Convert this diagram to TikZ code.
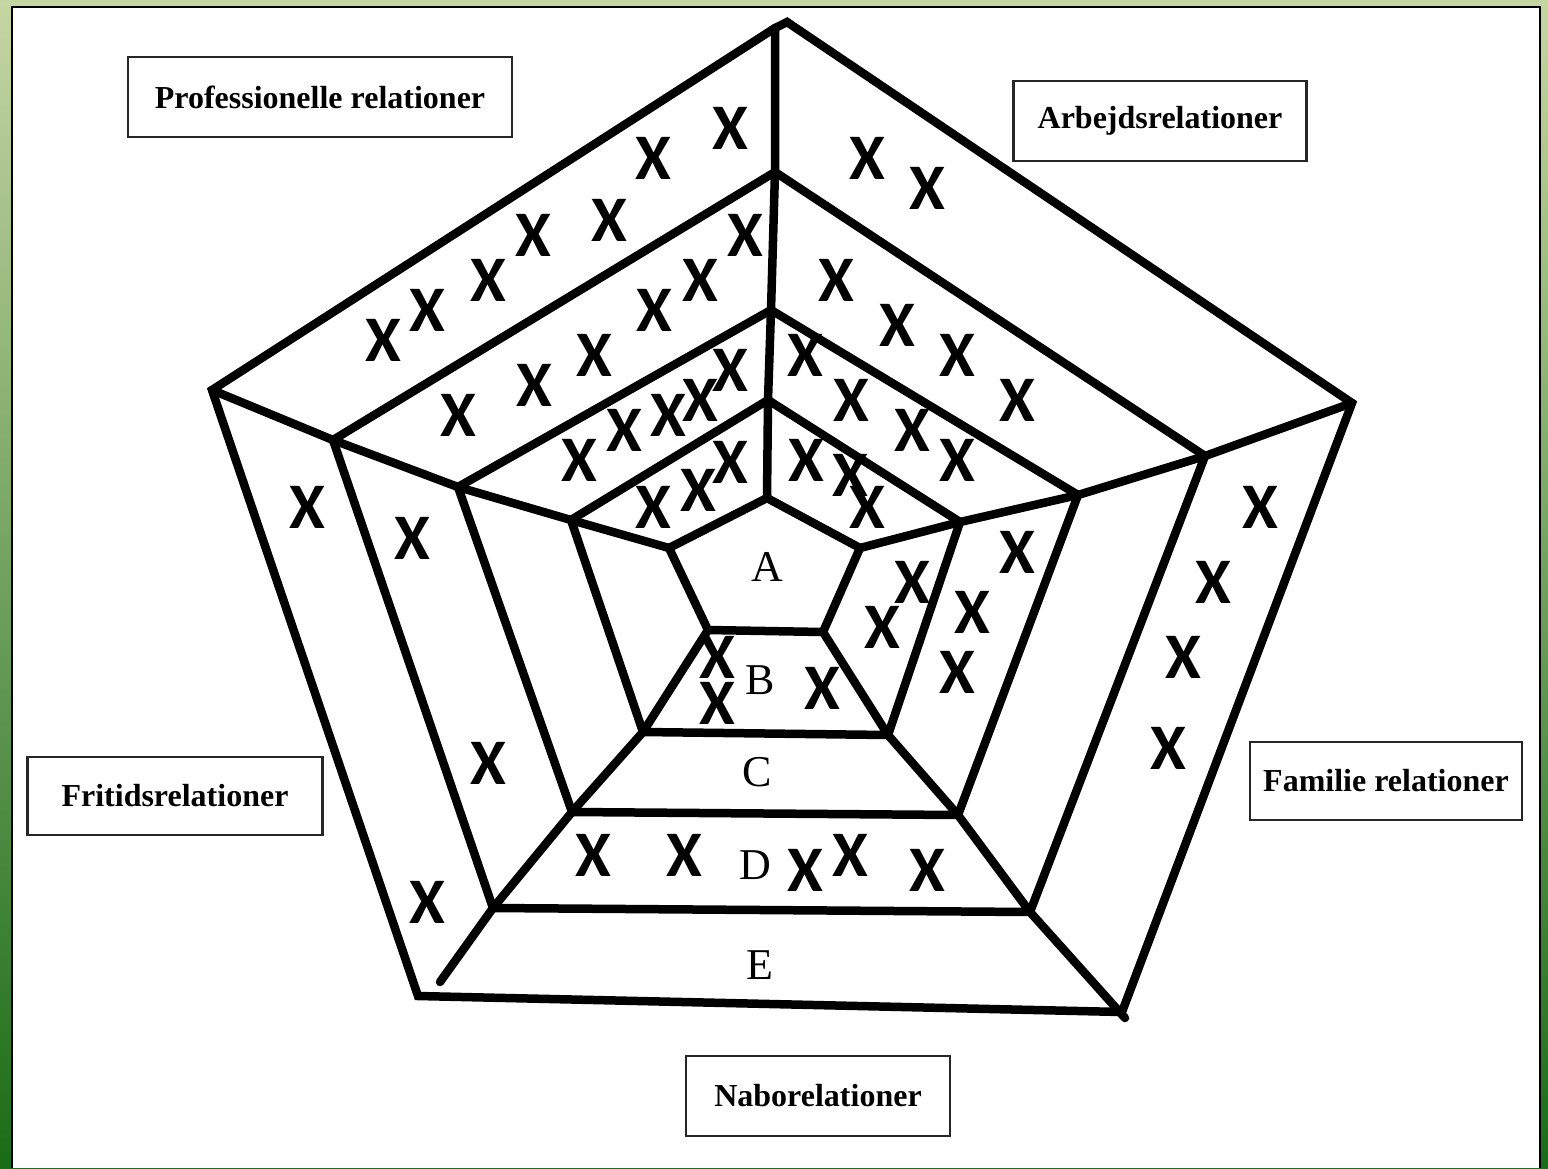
\documentclass[tikz,border=0pt]{standalone}
\usepackage{fontspec}
\setmainfont{Liberation Serif}
\newfontfamily\markfont{Carlito}
\definecolor{frametop}{RGB}{198,214,162}
\definecolor{framemid}{RGB}{120,166,92}
\definecolor{framebot}{RGB}{26,108,24}
\begin{document}
\begin{tikzpicture}[
    x=1pt, y=-1pt,
    ring/.style={line width=8.5pt, line join=miter},
    spoke/.style={line width=8.5pt, line cap=round, line join=round},
    relbox/.style={
        draw=black!85,
        line width=2.2pt,
        inner sep=0pt,
        anchor=center,
        font=\bfseries\fontsize{32}{36}\selectfont,
    },
    zone/.style={font=\fontsize{44}{48}\selectfont, inner sep=0pt},
    xmark/.style={font=\markfont\bfseries\fontsize{65}{65}\selectfont, inner sep=0pt},
]
\useasboundingbox (0,0) rectangle (1548,1168);

% --- Frame ---
\shade[top color=frametop, middle color=framemid, bottom color=framebot] (0,0) rectangle (1548,1168);
\fill[white] (12,7) rectangle (1540,1168);
\draw[line width=1.5pt] (12,1168) -- (12,7) -- (1540,7) -- (1540,1168);

% --- Ring corners (outer ring 1 to inner ring 5) ---
\coordinate (T1) at (775,28);  \coordinate (T1a) at (787,22);
\coordinate (R1) at (1352,403); \coordinate (BR1) at (1122,1012);
\coordinate (BL1) at (418,996); \coordinate (L1) at (212,390);

\coordinate (T2) at (775,172);  \coordinate (R2) at (1205,456);
\coordinate (BR2) at (1030,912); \coordinate (BL2) at (493,908);
\coordinate (L2) at (333,440);

\coordinate (T3) at (771,310);  \coordinate (R3) at (1078,495);
\coordinate (BR3) at (958,815); \coordinate (BL3) at (572,812);
\coordinate (L3) at (458,487);

\coordinate (T4) at (768,400);  \coordinate (R4) at (960,522);
\coordinate (BR4) at (888,735); \coordinate (BL4) at (643,732);
\coordinate (L4) at (571,520);

\coordinate (T5) at (767,498);  \coordinate (R5) at (860,548);
\coordinate (BR5) at (823,632); \coordinate (BL5) at (708,630);
\coordinate (L5) at (669,548);

% free ends of the two lower spokes
\coordinate (BRend) at (1125,1018);
\coordinate (BLend) at (440,982);

% --- Rings ---
\draw[ring] (T1a) -- (R1) -- (BR1) -- (BL1) -- (L1) -- (T1) -- cycle;
\draw[ring] (T2) -- (R2) -- (BR2) -- (BL2) -- (L2) -- cycle;
\draw[ring] (T3) -- (R3) -- (BR3) -- (BL3) -- (L3) -- cycle;
\draw[ring] (T4) -- (R4) -- (BR4) -- (BL4) -- (L4) -- cycle;
\draw[ring] (T5) -- (R5) -- (BR5) -- (BL5) -- (L5) -- cycle;

% --- Spokes ---
\draw[spoke] (T5) -- (T4) -- (T3) -- (T2) -- (T1);
\draw[spoke] (L5) -- (L4) -- (L3) -- (L2) -- (L1);
\draw[spoke] (R5) -- (R4) -- (R3) -- (R2) -- (R1);
\draw[spoke] (BR5) -- (BR4) -- (BR3) -- (BR2) -- (BRend);
\draw[spoke] (BL5) -- (BL4) -- (BL3) -- (BL2) -- (BLend);

% --- Zone letters ---
\node[zone] (zA) at (767,567) {A};
\node[zone] (zB) at (760,680) {B};
\node[zone] (zC) at (757,772) {C};
\node[zone] (zD) at (755,865) {D};
\node[zone] (zE) at (760,965) {E};

% --- Relation boxes ---
\node[relbox, minimum width=384pt, minimum height=80pt] (prof) at (320,97)
    {Professionelle relationer};
\node[relbox, minimum width=293pt, minimum height=80pt] (arb) at (1160,121)
    {Arbejdsrelationer};
\node[relbox, minimum width=272pt, minimum height=78pt] (fam) at (1386,781)
    {Familie relationer};
\node[relbox, minimum width=295pt, minimum height=78pt] (frit) at (175,796)
    {Fritidsrelationer};
\node[relbox, minimum width=264pt, minimum height=80pt] (nabo) at (818,1096)
    {Naborelationer};

% --- Marks ---
\foreach \mx/\my [count=\i] in {
    730/128, 653/158, 609/220, 533/235, 488/280, 427/310, 383/340,
    745/235, 700/280, 654/310, 594/355, 534/385, 458/415,
    730/370, 700/400, 668/415, 624/430, 579/460,
    730/462, 698/490, 653/507,
    867/158, 927/188,
    836/280, 897/325, 957/355, 1017/400,
    805/355, 851/400, 912/430, 957/460,
    806/460, 850/475, 867/507,
    1017/552, 972/612, 957/672, 912/582, 882/627,
    1260/507, 1213/582, 1183/657, 1168/748,
    717/657, 717/703, 822/688,
    593/855, 684/855, 805/870, 850/855, 927/870,
    307/507, 412/538, 488/763, 427/902}
    \node[xmark] (x\i) at (\mx,\my) {X};

\end{tikzpicture}
\end{document}
